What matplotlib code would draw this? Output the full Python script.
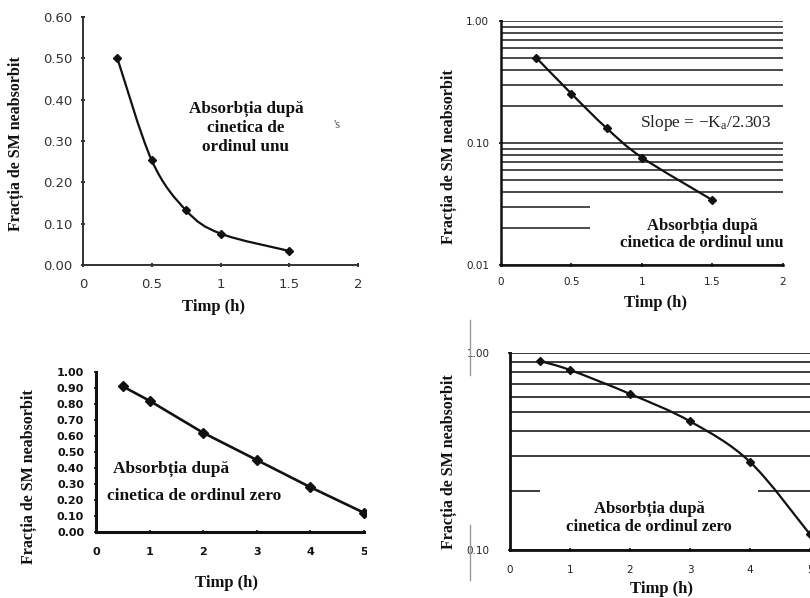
import numpy as np
import matplotlib
matplotlib.use('Agg')
import matplotlib.pyplot as plt
from matplotlib.path import Path
from matplotlib.patches import PathPatch, Rectangle
from matplotlib.ticker import FixedLocator, FixedFormatter, LogLocator, NullFormatter
from matplotlib.lines import Line2D

# ---------------- data ----------------
t_first = [0.25, 0.5, 0.75, 1.0, 1.5]          # Timp (h)
f_first = [0.50, 0.253, 0.132, 0.076, 0.034]   # fraction unabsorbed, first order

t_zero = [0.5, 1, 2, 3, 4, 5]
f_zero = [0.91, 0.82, 0.62, 0.45, 0.28, 0.12]  # fraction unabsorbed, zero order

xt_first = [0, 0.5, 1, 1.5, 2]
xt_first_lbl = ['0', '0.5', '1', '1.5', '2']
yt_lin1 = [0.0, 0.1, 0.2, 0.3, 0.4, 0.5, 0.6]
yt_lin1_lbl = ['0.00', '0.10', '0.20', '0.30', '0.40', '0.50', '0.60']
yt_log1 = [0.01, 0.1, 1.0]
yt_log1_lbl = ['0.01', '0.10', '1.00']

xt_zero = [0, 1, 2, 3, 4, 5]
xt_zero_lbl = ['0', '1', '2', '3', '4', '5']
yt_lin0 = [0.0, 0.1, 0.2, 0.3, 0.4, 0.5, 0.6, 0.7, 0.8, 0.9, 1.0]
yt_lin0_lbl = ['0.00', '0.10', '0.20', '0.30', '0.40', '0.50', '0.60', '0.70', '0.80', '0.90', '1.00']
yt_log0 = [0.1, 1.0]
yt_log0_lbl = ['0.10', '1.00']

ylabel = 'Fracția de SM neabsorbit'
xlabel = 'Timp (h)'
txt_first = 'Absorbția după'
txt_first2 = 'cinetica de ordinul unu'
txt_zero1 = 'Absorbția după'
txt_zero2 = 'cinetica de ordinul zero'

# ---------------- figure ----------------
W, H = 810, 598
fig = plt.figure(figsize=(8.1, 5.98), dpi=100)
fig.patch.set_facecolor('white')
plt.rcParams['mathtext.fontset'] = 'custom'
plt.rcParams['mathtext.rm'] = 'Liberation Serif'
plt.rcParams['mathtext.it'] = 'Liberation Serif:italic'

SERIF = 'Liberation Serif'
SANS = 'DejaVu Sans'
INK = '#111111'


def rect(l, t, r, b):
    return [l / W, 1 - b / H, (r - l) / W, (b - t) / H]


def ftext(x, y, s, **kw):
    return fig.text(x / W, 1 - y / H, s, **kw)


def smooth(ax, x, y, logy=False, **kw):
    x = np.asarray(x, float)
    y = np.asarray(y, float)
    yy = np.log10(y) if logy else y
    P = np.column_stack([x, yy])
    n = len(P)
    verts = [P[0]]
    codes = [Path.MOVETO]
    for i in range(n - 1):
        p0 = P[max(i - 1, 0)]
        p1 = P[i]
        p2 = P[i + 1]
        p3 = P[min(i + 2, n - 1)]
        c1 = p1 + (p2 - p0) / 6.0
        c2 = p2 - (p3 - p1) / 6.0
        verts += [c1, c2, p2]
        codes += [Path.CURVE4] * 3
    V = np.array(verts)
    if logy:
        V[:, 1] = 10 ** V[:, 1]
    ax.add_patch(PathPatch(Path(V, codes), fill=False, zorder=3, **kw))


def style(ax, xt, xl, yt, yl, spine_lw, spine_col, tsize, tweight, xpad, ypad, tcol='#222222'):
    for s in ['top', 'right']:
        ax.spines[s].set_visible(False)
    for s in ['left', 'bottom']:
        ax.spines[s].set_linewidth(spine_lw)
        ax.spines[s].set_color(spine_col)
    ax.xaxis.set_major_locator(FixedLocator(xt))
    ax.xaxis.set_major_formatter(FixedFormatter(xl))
    ax.yaxis.set_major_locator(FixedLocator(yt))
    ax.yaxis.set_major_formatter(FixedFormatter(yl))
    ax.tick_params(axis='x', which='major', length=3, width=1.2, direction='inout',
                   pad=xpad, labelsize=tsize, colors=INK, labelcolor=tcol)
    ax.tick_params(axis='y', which='major', length=3, width=1.2, direction='inout',
                   pad=ypad, labelsize=tsize, colors=INK, labelcolor=tcol)
    for lab in ax.get_xticklabels() + ax.get_yticklabels():
        lab.set_fontfamily(SANS)
        lab.set_fontweight(tweight)
    ax.set_facecolor('white')


# ---------- Panel 1: linear, first order ----------
ax1 = fig.add_axes(rect(83, 17, 358, 265))
ax1.set_xlim(0, 2)
ax1.set_ylim(0, 0.6)
style(ax1, xt_first, xt_first_lbl, yt_lin1, yt_lin1_lbl, 1.4, '#333333', 9.5, 'normal', 8, 6, '#333333')
smooth(ax1, t_first, f_first, lw=1.6, edgecolor=INK)
ax1.plot(t_first, f_first, ls='none', marker='D', ms=4.3, color=INK, zorder=4, clip_on=False)
ftext(246, 128, 'Absorbția după\ncinetica de\nordinul unu', ha='center', va='center',
      family=SERIF, weight='bold', fontsize=12.3, color=INK, linespacing=1.25)
ftext(337, 125, "'s", ha='center', va='center', family=SERIF, fontsize=9, color='#555555')
ftext(214, 307, xlabel, ha='center', va='center', family=SERIF, weight='bold', fontsize=12, color=INK)
ftext(16, 144, ylabel, ha='center', va='center', rotation=90, family=SERIF, weight='bold',
      fontsize=11.5, color=INK)

# ---------- Panel 2: log, first order ----------
ax2 = fig.add_axes(rect(501, 21, 783, 265))
ax2.set_yscale('log')
ax2.set_xlim(0, 2)
ax2.set_ylim(0.01, 1.0)
style(ax2, xt_first, xt_first_lbl, yt_log1, yt_log1_lbl, 1.8, INK, 7.5, 'normal', 7, 7)
ax2.yaxis.set_minor_locator(LogLocator(base=10, subs=np.arange(2, 10)))
ax2.yaxis.set_minor_formatter(NullFormatter())
ax2.tick_params(axis='y', which='minor', length=0)
ax2.set_axisbelow(True)
ax2.grid(True, axis='y', which='both', color='#1a1a1a', lw=1.1)
ax2.add_patch(Rectangle((0.317, 0.02), 0.683, 0.235, transform=ax2.transAxes,
                        facecolor='white', edgecolor='none', zorder=1))
smooth(ax2, t_first, f_first, logy=True, lw=1.6, edgecolor=INK)
ax2.plot(t_first, f_first, ls='none', marker='D', ms=3.6, color=INK, zorder=4)
ftext(640, 123, 'Slope = \u2212K$_{\\mathrm{a}}$/2.303', ha='left', va='center', family=SERIF,
      fontsize=12.5, color='#222222')
ftext(702, 234, txt_first + '\n' + txt_first2, ha='center', va='center', family=SERIF,
      weight='bold', fontsize=12, color=INK, linespacing=1.1)
ftext(655, 303, xlabel, ha='center', va='center', family=SERIF, weight='bold', fontsize=12, color=INK)
ftext(449, 157, ylabel, ha='center', va='center', rotation=90, family=SERIF, weight='bold',
      fontsize=11.5, color=INK)

# ---------- Panel 3: linear, zero order ----------
ax3 = fig.add_axes(rect(96, 372, 364, 532))
ax3.set_xlim(0, 5)
ax3.set_ylim(0, 1.0)
style(ax3, xt_zero, xt_zero_lbl, yt_lin0, yt_lin0_lbl, 2.2, INK, 8, 'bold', 9, 7, INK)
ax3.plot(t_zero, f_zero, ls='-', lw=1.9, marker='D', ms=4.8, color=INK, zorder=4, clip_on=False)
ftext(113, 469, txt_zero1, ha='left', va='center', family=SERIF, weight='bold', fontsize=12.5, color=INK)
ftext(107, 496, txt_zero2, ha='left', va='center', family=SERIF, weight='bold', fontsize=12.5, color=INK)
ftext(227, 583, xlabel, ha='center', va='center', family=SERIF, weight='bold', fontsize=12, color=INK)
ftext(29, 477, ylabel, ha='center', va='center', rotation=90, family=SERIF, weight='bold',
      fontsize=11.5, color=INK)
# crop edge of the scanned panel
fig.add_artist(Rectangle((367 / W, 1 - 560 / H), 30 / W, 60 / H, transform=fig.transFigure,
                         facecolor='white', edgecolor='none', zorder=10))

# ---------- Panel 4: log, zero order ----------
ax4 = fig.add_axes(rect(510, 353, 810, 550))
ax4.set_yscale('log')
ax4.set_xlim(0, 5)
ax4.set_ylim(0.1, 1.0)
style(ax4, xt_zero, xt_zero_lbl, yt_log0, yt_log0_lbl, 2.0, INK, 7.5, 'normal', 9, 13)
ax4.yaxis.set_minor_locator(LogLocator(base=10, subs=np.arange(2, 10)))
ax4.yaxis.set_minor_formatter(NullFormatter())
ax4.tick_params(axis='y', which='minor', length=0)
ax4.set_axisbelow(True)
ax4.grid(True, axis='y', which='both', color='#1a1a1a', lw=1.2)
ax4.add_patch(Rectangle((0.10, 0.017), 0.728, 0.305, transform=ax4.transAxes,
                        facecolor='white', edgecolor='none', zorder=1))
smooth(ax4, t_zero, f_zero, logy=True, lw=1.6, edgecolor=INK)
ax4.plot(t_zero, f_zero, ls='none', marker='D', ms=4.0, color=INK, zorder=4, clip_on=False)
ftext(649, 518, txt_zero1 + '\n' + txt_zero2, ha='center', va='center', family=SERIF,
      weight='bold', fontsize=12, color=INK, linespacing=1.15)
ftext(662, 589, xlabel, ha='center', va='center', family=SERIF, weight='bold', fontsize=12, color=INK)
ftext(449, 462, ylabel, ha='center', va='center', rotation=90, family=SERIF, weight='bold',
      fontsize=11.5, color=INK)
# scan border remnants
fig.add_artist(Line2D([470 / W, 470 / W], [1 - 320 / H, 1 - 375 / H], color='#9a9a9a', lw=1.0))
fig.add_artist(Line2D([470 / W, 470 / W], [1 - 525 / H, 1 - 580 / H], color='#9a9a9a', lw=1.0))

fig.savefig('out.png', dpi=100, facecolor='white')
